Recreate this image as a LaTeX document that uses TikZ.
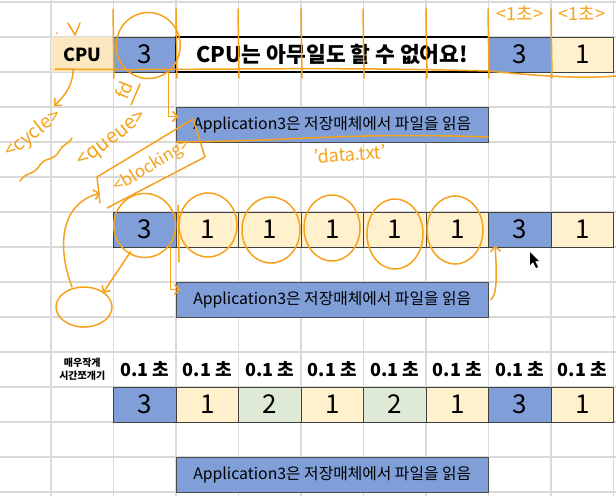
\documentclass[tikz,border=0pt]{standalone}
\usepackage{fontspec}
\setmainfont{Noto Sans CJK KR}
\usetikzlibrary{positioning,arrows.meta,calc}

\definecolor{cellblue}{RGB}{128,159,216}
\definecolor{cellyellow}{RGB}{255,241,204}
\definecolor{cellgreen}{RGB}{222,234,214}
\definecolor{cpupeach}{RGB}{252,232,192}
\definecolor{gridgray}{RGB}{217,217,217}
\definecolor{penorange}{RGB}{246,162,28}

\tikzset{
  cell/.style={draw=black!75, line width=0.9pt, minimum width=62.5pt, minimum height=35pt,
    inner sep=0pt, font=\fontsize{26}{26}\selectfont},
  appbox/.style={draw=black!70, line width=0.9pt, fill=cellblue, minimum width=312.5pt,
    minimum height=35pt, inner sep=0pt, font=\fontsize{15.8}{16}\selectfont},
  secs/.style={font=\bfseries\fontsize{18}{18}\selectfont},
  ink/.style={draw=penorange, line width=1.5pt, line cap=round, line join=round},
  hand/.style={text=penorange, font=\fontsize{18}{18}\selectfont, inner sep=0pt},
  barb/.style={-{Straight Barb[length=5pt,width=10pt]}},
}

\begin{document}
\begin{tikzpicture}[x=1pt,y=-1pt]
    \useasboundingbox (0,0) rectangle (616,496);
    \fill[white] (0,0) rectangle (616,496);

    \foreach \k in {0,...,9}
      \draw[gridgray, line width=1.2pt] ({51+62.5*\k},0) -- ({51+62.5*\k},496);
    \foreach \r in {0,...,14}
      \draw[gridgray, line width=1.2pt] (0,{2+35*\r}) -- (616,{2+35*\r});


    \node[cell, draw=none, fill=cpupeach, font=\bfseries\fontsize{18}{18}\selectfont] (cpu) at (82.25,54.5) {CPU};
    \node[cell, fill=cellblue] (top3) at (144.75,54.5) {3};
    \node[cell, fill=white, draw=black, line width=1.2pt, minimum width=312.5pt,
      font=\bfseries\fontsize{21.5}{22}\selectfont] (idle) at (332.25,54.5) {CPU는 아무일도 할 수 없어요!};
    \node[cell, fill=cellblue] (top3b) at (519.75,54.5) {3};
    \node[cell, fill=cellyellow] (top1) at (582.25,54.5) {1};

    \node[appbox] (read1) at (332.25,124.5) {Application3은 저장매체에서 파일을 읽음};


    \foreach \k/\v/\c in {2/3/cellblue,3/1/cellyellow,4/1/cellyellow,5/1/cellyellow,
        6/1/cellyellow,7/1/cellyellow,8/3/cellblue,9/1/cellyellow}
      \node[cell, fill=\c] (mid\k) at ({51+62.5*(\k-0.5)},229.5) {\v};

    \node[appbox] (read2) at (332.25,299.5) {Application3은 저장매체에서 파일을 읽음};


    \node[font=\bfseries\fontsize{10}{13}\selectfont, align=center] (slice) at (82.25,369.5) {매우작게\\시간쪼개기};
    \foreach \k in {2,...,9}
      \node[secs] (t\k) at ({51+62.5*(\k-0.5)},369.5) {0.1 초};

    \foreach \k/\v/\c in {2/3/cellblue,3/1/cellyellow,4/2/cellgreen,5/1/cellyellow,
        6/2/cellgreen,7/1/cellyellow,8/3/cellblue,9/1/cellyellow}
      \node[cell, fill=\c] (s\k) at ({51+62.5*(\k-0.5)},404.5) {\v};

    \node[appbox] (read3) at (332.25,474.5) {Application3은 저장매체에서 파일을 읽음};


    % pen marks
    \foreach \x in {113,176,238,301,363,426,488,551}
      \draw[ink] (\x,9) -- (\x+1,78);
    \draw[ink] (55,69) .. controls (200,71) and (300,66) .. (488,71) .. controls (540,76) and (580,79) .. (616,76);
    \draw[ink] ($(top3)+(3.5,-9)$) ellipse [x radius=32, y radius=33];
    \draw[ink] (68,23) -- (75,35) -- (80,23);
    \fill[penorange] (57,33) circle (1pt);
    \node[hand] (sec1) at (520,13) {<1초>};
    \node[hand] (sec2) at (582,13) {<1초>};

    \draw[ink, barb] ($(cpu.south)+(-9,-2)$) .. controls (72,90) and (60,100) .. (54,106);
    \node[hand, rotate=38, font=\fontsize{19}{19}\selectfont] (cycle) at (33,134) {<cycle>};
    \draw[ink] (20,181) .. controls (28,170) and (32,177) .. (40,165) .. controls (48,155) and (52,163) .. (60,150) .. controls (64,143) and (68,145) .. (72,138);

    \node[hand, rotate=68] (fd) at (124,90) {fd};
    \draw[ink] (131,105) -- (140,84);
    \draw[ink, barb] ($(top3.south east)+(-8,0)$) |- ($(read1.west)+(3,-8)$);

    \node[hand, rotate=37, font=\fontsize{20}{20}\selectfont] (queue) at (113,140) {<queue>};
    \draw[ink] (100,203) -- (97,177) -- (193,119) -- (205,157) -- (107,208);
    \node[hand, rotate=31, font=\fontsize{17}{17}\selectfont] (block) at (152,166) {<blocking>};
    \draw[ink] (176,142) .. controls (300,141) and (350,132) .. (488,137);
    \node[hand, rotate=4, font=\fontsize{18}{18}\selectfont] (datafile) at (350,154) {'data.txt'};

    \coordinate (wait) at (84,307);
    \draw[ink] (wait) ellipse [x radius=28, y radius=20];
    \draw[ink, barb] (72,287) .. controls (58,250) and (58,205) .. (100,193);
    \draw[ink, barb] ($(mid2.south)+(-14,4)$) -- ($(wait)+(19,-14)$);
    \draw[ink] ($(mid2)+(0,-4)$) ellipse [x radius=31, y radius=32];
    \draw[ink, barb] ($(mid2.south east)+(-6,0)$) |- ($(read2.west)+(5,-10)$);
    \draw[ink] (178,205) -- (179,262);
    \draw[ink] (208,225) ellipse [x radius=29, y radius=32];
    \draw[ink] (271,230) ellipse [x radius=29, y radius=33];
    \draw[ink] (332,228) ellipse [x radius=28, y radius=33];
    \draw[ink] (395,234) ellipse [x radius=28, y radius=35];
    \draw[ink] (455,230) ellipse [x radius=28, y radius=34];
    \draw[ink, barb] ($(read2.east)+(2,0)$) .. controls (497,295) and (497,275) .. ($(mid8.south west)+(7,-2)$);

    \fill[black] (530,252) -- (530,265) -- (533,262) -- (536,268) -- (538,267) -- (535,261) -- (539,261) -- cycle;

\end{tikzpicture}
\end{document}
